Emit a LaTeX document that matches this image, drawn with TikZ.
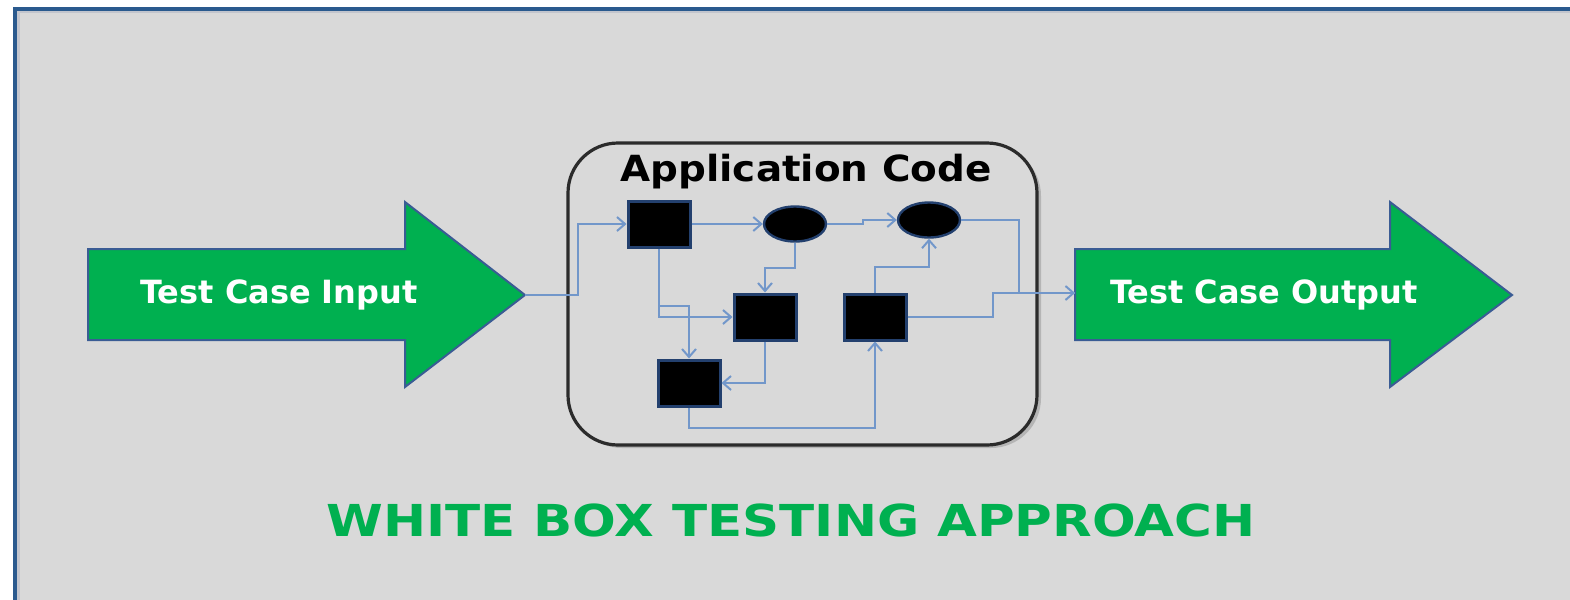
\documentclass[tikz,border=0pt]{standalone}
\usepackage{fontspec}
\setmainfont{DejaVu Sans}
\usetikzlibrary{arrows.meta,shapes.geometric,shadows}

\definecolor{panelgray}{HTML}{D9D9D9}
\definecolor{frameblue}{HTML}{2A5A8E}
\definecolor{framegray}{HTML}{C2C5CD}
\definecolor{arrowgreen}{HTML}{00B050}
\definecolor{arrowblue}{HTML}{3A5C94}
\definecolor{boxblue}{HTML}{23406E}
\definecolor{flowblue}{HTML}{7297CA}
\definecolor{edgegray}{HTML}{2B2B2B}

\tikzset{
  block/.style={fill=black, draw=boxblue, line width=1.5pt, minimum width=31pt, minimum height=23pt, inner sep=0pt},
  decision/.style={ellipse, fill=black, draw=boxblue, line width=1.2pt, minimum width=31pt, minimum height=17.5pt, inner sep=0pt},
  flow/.style={draw=flowblue, line width=1pt, -{Straight Barb[length=4pt,width=7pt]}},
  bigarrow/.style={fill=arrowgreen, draw=arrowblue, line width=1pt},
  bigtext/.style={text=white, font=\bfseries\fontsize{16}{19}\selectfont},
}

\begin{document}
\begin{tikzpicture}[x=0.5pt,y=-0.5pt]
	\useasboundingbox (0,0) rectangle (1570,600);

	%The grey panel and its frame
	\fill[panelgray] (13,7) rectangle (1570,600);
	\draw[framegray, line width=1.5pt] (18.5,600) -- (18.5,11.5) -- (1570,11.5);
	\draw[frameblue, line width=2pt] (15,600) -- (15,8.5) -- (1570,8.5);

	%Input arrow
	\draw[bigarrow] (88,249) -- (405,249) -- (405,202) -- (525,295) -- (405,387) -- (405,340) -- (88,340) -- cycle;
	\coordinate (intip) at (525,295);
	\node[bigtext] (inlabel) at (279,295) {Test Case Input};

	%Output arrow
	\draw[bigarrow] (1075,249) -- (1390,249) -- (1390,202) -- (1512,295) -- (1390,387) -- (1390,340) -- (1075,340) -- cycle;
	\coordinate (outtail) at (1075,293);
	\node[bigtext] (outlabel) at (1264,295) {Test Case Output};

	%The code box
	\draw[edgegray, line width=1.6pt, rounded corners=25pt, fill=panelgray,
	      drop shadow={opacity=0.4, shadow xshift=2pt, shadow yshift=-1.5pt}]
	      (568,143) rectangle (1037,445);
	\node[font=\bfseries\fontsize{18}{21}\selectfont, xscale=1.08] (apptitle) at (806,172) {Application Code};

	\node[block] (s1) at (659,224) {};
	\node[decision] (e1) at (795,224) {};
	\node[decision] (e2) at (929,220) {};
	\node[block] (s2) at (765,317) {};
	\node[block] (s3) at (875,317) {};
	\node[block] (s4) at (689,383) {};

	%Flow of control
	\draw[flow] (intip) -- ++(53,0) |- (s1.west);
	\draw[flow] (s1.east) -- (e1.west);
	\draw[flow] (e1.east) -- ++(36,0) |- (e2.west);
	\draw[flow] (e2.east) -- ++(58,0) |- (outtail);
	\draw[flow] (s1.south) |- (s2.west);
	\draw[flow] (s1.south) ++(0,57) -| (s4.north);
	\draw[flow] (e1.south) -- ++(0,25) -| (s2.north);
	\draw[flow] (s2.south) |- (s4.east);
	\draw[flow] (s4.south) -- ++(0,20) -| (s3.south);
	\draw[flow] (s3.north) -- ++(0,-26) -| (e2.south);
	\draw[flow,-] (s3.east) -- ++(85,0) |- (outtail);

	%Caption
	\node[text=arrowgreen, font=\bfseries\fontsize{22}{26}\selectfont, xscale=1.17] (caption) at (791,520) {WHITE BOX TESTING APPROACH};

\end{tikzpicture}
\end{document}
